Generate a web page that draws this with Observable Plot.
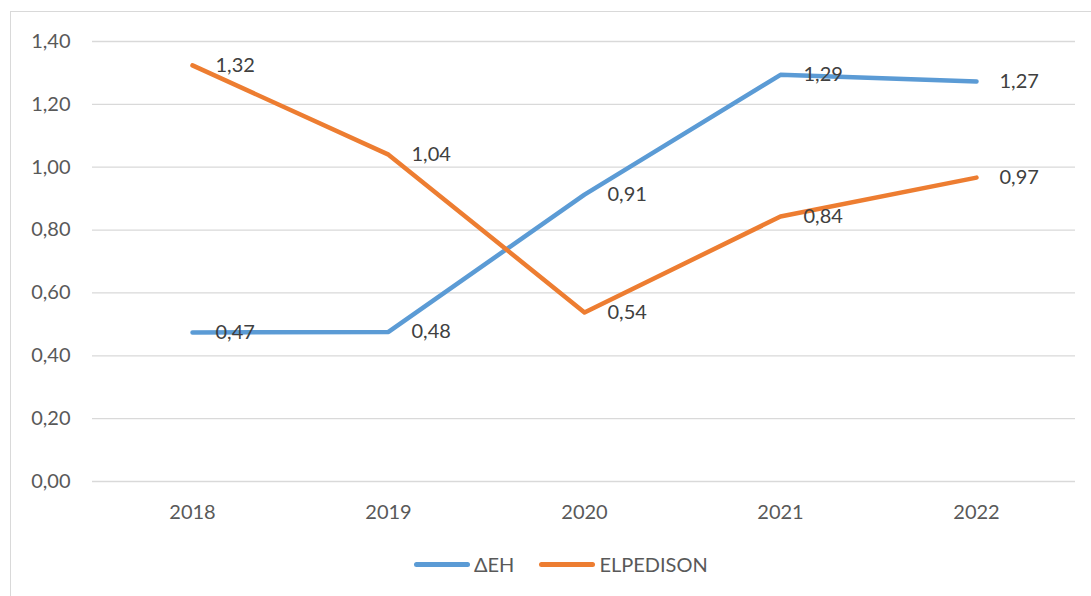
<!DOCTYPE html>
<html>
<head>
<meta charset="utf-8">
<script src="https://cdn.jsdelivr.net/npm/d3@7"></script>
<script src="https://cdn.jsdelivr.net/npm/@observablehq/plot@0.6"></script>
<style>
  html, body { margin: 0; padding: 0; background: #fff; }
  body { width: 1091px; height: 596px; position: relative; overflow: hidden; font-family: Lato, "Open Sans", sans-serif; }
  #frame { position: absolute; left: 10px; top: 11px; width: 1100px; height: 600px; border: 1.5px solid #d9d9d9; box-sizing: border-box; }
  #chart { position: absolute; left: 0; top: 0; }
  #legend { position: absolute; left: 414px; top: 552px; display: flex; align-items: center; font-size: 20px; color: #595959; }
  .item { display: flex; align-items: center; margin-right: 25px; }
  .sw { width: 56px; height: 5px; border-radius: 3px; margin-right: 4px; }
</style>
</head>
<body>
<div id="frame"></div>
<div id="chart"></div>
<div id="legend"></div>
<script>
const years = ["2018", "2019", "2020", "2021", "2022"];
const seriesNames = ["ΔΕΗ", "ELPEDISON"];
const deh = [0.474, 0.476, 0.913, 1.294, 1.273];
const elpedison = [1.324, 1.04, 0.538, 0.843, 0.967];
const yTicks = [0, 0.2, 0.4, 0.6, 0.8, 1.0, 1.2, 1.4];
const colors = ["#5B9BD5", "#ED7D31"];

const fmt = d => d.toFixed(2).replace(".", ",");
const data = [];
[deh, elpedison].forEach((vals, s) => {
  vals.forEach((v, i) => data.push({series: seriesNames[s], year: years[i], value: v}));
});

const plot = Plot.plot({
  width: 1091,
  height: 530,
  marginLeft: 92,
  marginRight: 16,
  marginTop: 41,
  marginBottom: 49,
  style: {fontFamily: "Lato, 'Open Sans', sans-serif", fontSize: "20px", background: "transparent"},
  x: {type: "point", domain: years, padding: 0.5, label: null},
  y: {domain: [0, 1.4], label: null},
  color: {domain: seriesNames, range: colors},
  marks: [
    Plot.ruleY(yTicks, {stroke: "#d9d9d9", strokeWidth: 1.3}),
    Plot.axisY({ticks: yTicks, tickSize: 0, tickPadding: 22, tickFormat: fmt, fill: "#595959", fontSize: 20, label: null}),
    Plot.axisX({tickSize: 0, tickPadding: 23, fill: "#595959", fontSize: 20, label: null}),
    Plot.line(data, {x: "year", y: "value", z: "series", stroke: "series", strokeWidth: 4.5, strokeLinecap: "round", strokeLinejoin: "round"}),
    Plot.text(data, {x: "year", y: "value", text: d => fmt(d.value), textAnchor: "start", dx: 23, fill: "#404040", fontSize: 20})
  ]
});
document.getElementById("chart").appendChild(plot);

const legend = document.getElementById("legend");
seriesNames.forEach((name, i) => {
  const item = document.createElement("div");
  item.className = "item";
  const sw = document.createElement("div");
  sw.className = "sw";
  sw.style.background = colors[i];
  const label = document.createElement("span");
  label.textContent = name;
  item.appendChild(sw);
  item.appendChild(label);
  legend.appendChild(item);
});
</script>
</body>
</html>
